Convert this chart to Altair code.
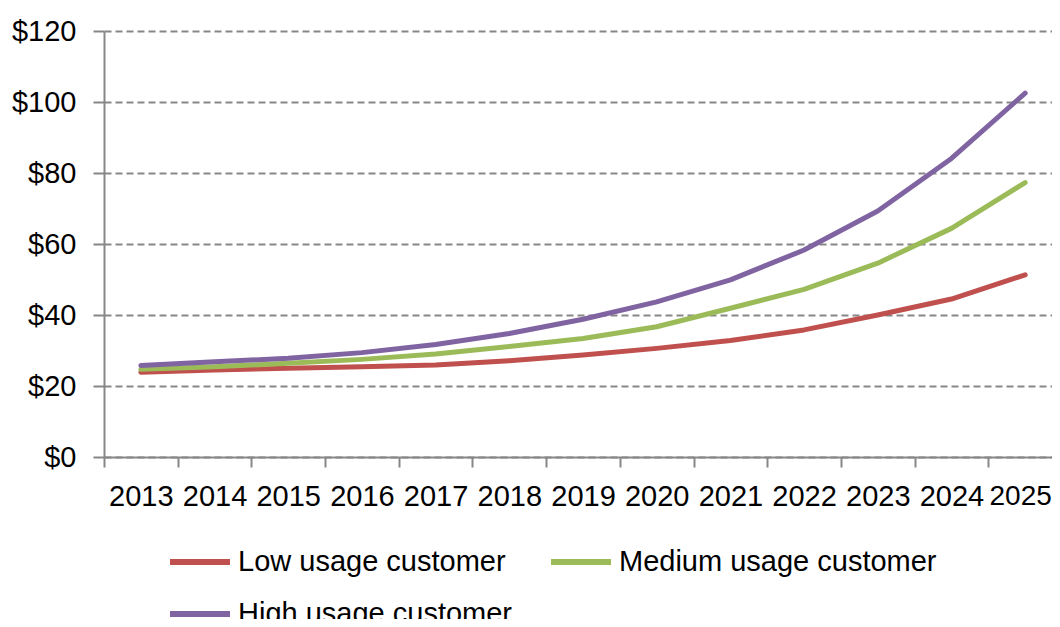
import altair as alt
import pandas as pd

years = [str(y) for y in range(2013, 2026)]
low = [23.9, 24.5, 25.0, 25.4, 25.9, 27.1, 28.7, 30.6, 32.8, 35.8, 40.0, 44.5, 51.3]
medium = [24.7, 25.4, 26.4, 27.5, 29.0, 31.1, 33.4, 36.7, 41.9, 47.2, 54.6, 64.4, 77.3]
high = [25.8, 26.8, 27.8, 29.4, 31.7, 34.8, 38.8, 43.7, 49.9, 58.3, 69.3, 84.1, 102.5]
series = ["Low usage customer", "Medium usage customer", "High usage customer"]
colors = ["#C0504D", "#9BBB59", "#8064A2"]

rows = []
for name, vals in zip(series, [low, medium, high]):
    for y, v in zip(years, vals):
        rows.append({"year": y, "value": v, "series": name})
df = pd.DataFrame(rows)

FONT = "Liberation Sans"
GRAY = "#878787"
FS = 29
last_year = years[-1]

chart = alt.Chart(df).mark_line(strokeWidth=5, strokeCap="round", strokeJoin="round").encode(
    x=alt.X("year:O", bandPosition=0.5,
            scale=alt.Scale(type="band", paddingInner=0, paddingOuter=0),
            axis=alt.Axis(title=None, labelAngle=0, tickBand="extent", grid=False,
                          domainColor=GRAY, domainWidth=2, tickColor=GRAY, tickWidth=2,
                          tickSize=10, labelPadding=15,
                          labelFontSize={"condition": {"test": f"datum.label == '{last_year}'", "value": 28}, "value": FS},
                          labelOffset={"condition": {"test": f"datum.label == '{last_year}'", "value": -5}, "value": 0},
                          labelFont=FONT, labelColor="#000000")),
    y=alt.Y("value:Q",
            scale=alt.Scale(domain=[0, 120], nice=False),
            axis=alt.Axis(title=None, values=[0, 20, 40, 60, 80, 100, 120], format="$,.0f",
                          grid=True, gridColor=GRAY, gridWidth=2, gridDash=[7, 4],
                          domainColor=GRAY, domainWidth=2, tickColor=GRAY, tickWidth=2,
                          tickSize=11, labelPadding=17, labelFontSize=FS, labelFont=FONT,
                          labelColor="#000000")),
    color=alt.Color("series:N",
                    scale=alt.Scale(domain=series, range=colors),
                    legend=alt.Legend(title=None, orient="none", legendX=63, legendY=498,
                                      direction="horizontal",
                                      columns=2, symbolType="stroke", symbolSize=3600,
                                      symbolStrokeWidth=6, labelFontSize=FS, labelFont=FONT,
                                      labelColor="#000000", labelOffset=5,
                                      columnPadding=26, rowPadding=4, padding=0,
                                      labelLimit=400)),
).properties(
    width=958,
    height=426,
    autosize=alt.AutoSizeParams(type="none"),
    padding={"left": 96, "top": 23, "right": -10, "bottom": 162},
).configure_view(stroke=None)

chart.save("out.html", embed_options={"renderer": "svg", "actions": False})
